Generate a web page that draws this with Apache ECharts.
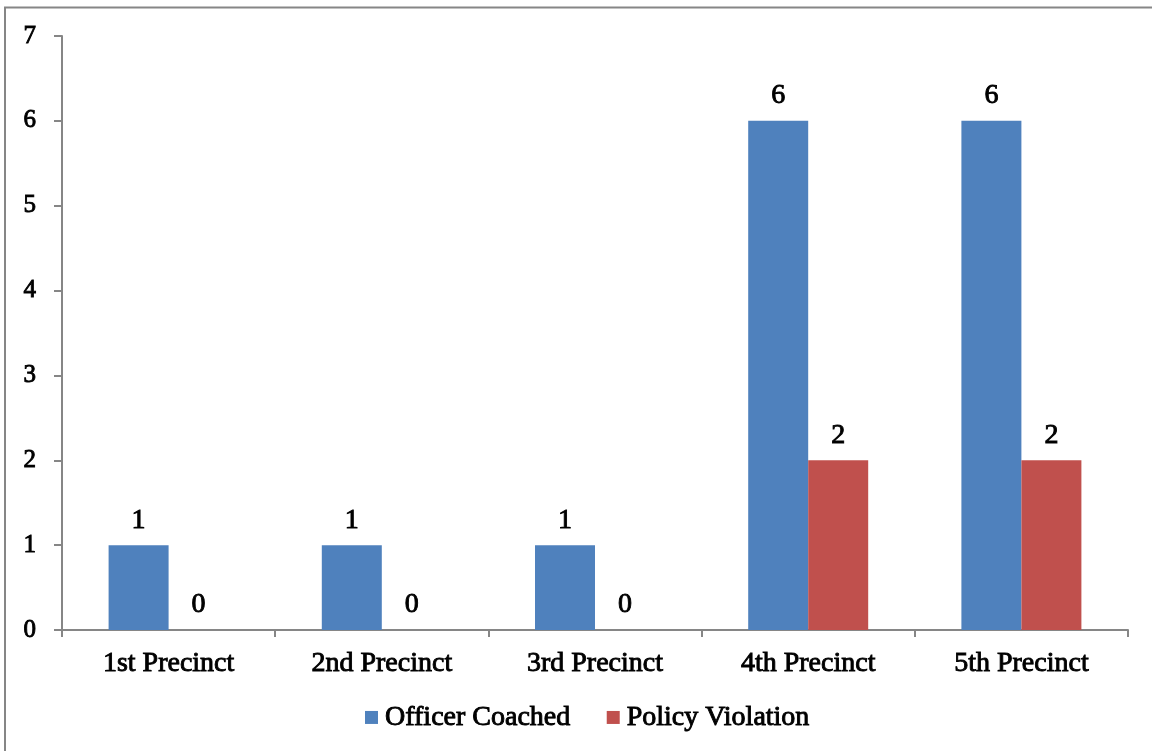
<!DOCTYPE html>
<html>
<head>
<meta charset="utf-8">
<script src="https://cdn.jsdelivr.net/npm/echarts@6/dist/echarts.min.js"></script>
<style>
  html, body { margin: 0; padding: 0; background: #fff; }
  #chart { width: 1152px; height: 751px; }
</style>
</head>
<body>
<div id="chart"></div>
<script>
// Precinct names along the category axis
const precincts = ['1st Precinct', '2nd Precinct', '3rd Precinct', '4th Precinct', '5th Precinct'];
// Counts per precinct
const officerCoached = [1, 1, 1, 6, 6];
const policyViolation = [0, 0, 0, 2, 2];
// Value axis ticks
const yTicks = [0, 1, 2, 3, 4, 5, 6, 7];

const FONT = 'Liberation Serif';
const AXIS_GRAY = '#868686';

const chart = echarts.init(document.getElementById('chart'), null, { renderer: 'canvas' });

// Shared text look: a thin same-colour outline thickens the serif strokes a little
const textBase = { fontFamily: FONT, color: '#000', textBorderColor: '#000', textBorderWidth: 0.9 };

const labelStyle = Object.assign({
  show: true,
  position: 'top',
  distance: 11,
  fontSize: 28
}, textBase);

chart.setOption({
  animation: false,
  backgroundColor: '#fff',
  graphic: [{
    type: 'rect',
    shape: { x: 5, y: 7.5, width: 1200, height: 800 },
    style: { fill: 'none', stroke: AXIS_GRAY, lineWidth: 2 },
    silent: true,
    z: -1
  }],
  grid: { left: 62, right: 24, top: 36, bottom: 121, containLabel: false },
  legend: {
    left: 360,
    top: 698,
    itemWidth: 13,
    itemHeight: 13,
    itemGap: 36,
    icon: 'rect',
    textStyle: Object.assign({ fontSize: 28, padding: [0, 0, 0, 2] }, textBase),
    data: ['Officer Coached', 'Policy Violation']
  },
  xAxis: {
    type: 'category',
    data: precincts,
    axisLine: { lineStyle: { color: AXIS_GRAY, width: 2 } },
    axisTick: { show: true, alignWithLabel: false, length: 7, lineStyle: { color: AXIS_GRAY, width: 2 } },
    axisLabel: Object.assign({ fontSize: 28, margin: 20 }, textBase)
  },
  yAxis: {
    type: 'value',
    min: yTicks[0],
    max: yTicks[yTicks.length - 1],
    interval: 1,
    axisLine: { show: true, lineStyle: { color: AXIS_GRAY, width: 2 } },
    axisTick: { show: true, inside: false, length: 8, lineStyle: { color: AXIS_GRAY, width: 2 } },
    splitLine: { show: false },
    axisLabel: Object.assign({ fontSize: 25, margin: 26 }, textBase)
  },
  series: [
    {
      name: 'Officer Coached',
      type: 'bar',
      data: officerCoached,
      barWidth: 60,
      barGap: '0%',
      itemStyle: { color: '#4F81BD' },
      label: labelStyle
    },
    {
      name: 'Policy Violation',
      type: 'bar',
      data: policyViolation,
      barWidth: 60,
      barGap: '0%',
      itemStyle: { color: '#C0504D' },
      label: labelStyle
    }
  ]
});
</script>
</body>
</html>
